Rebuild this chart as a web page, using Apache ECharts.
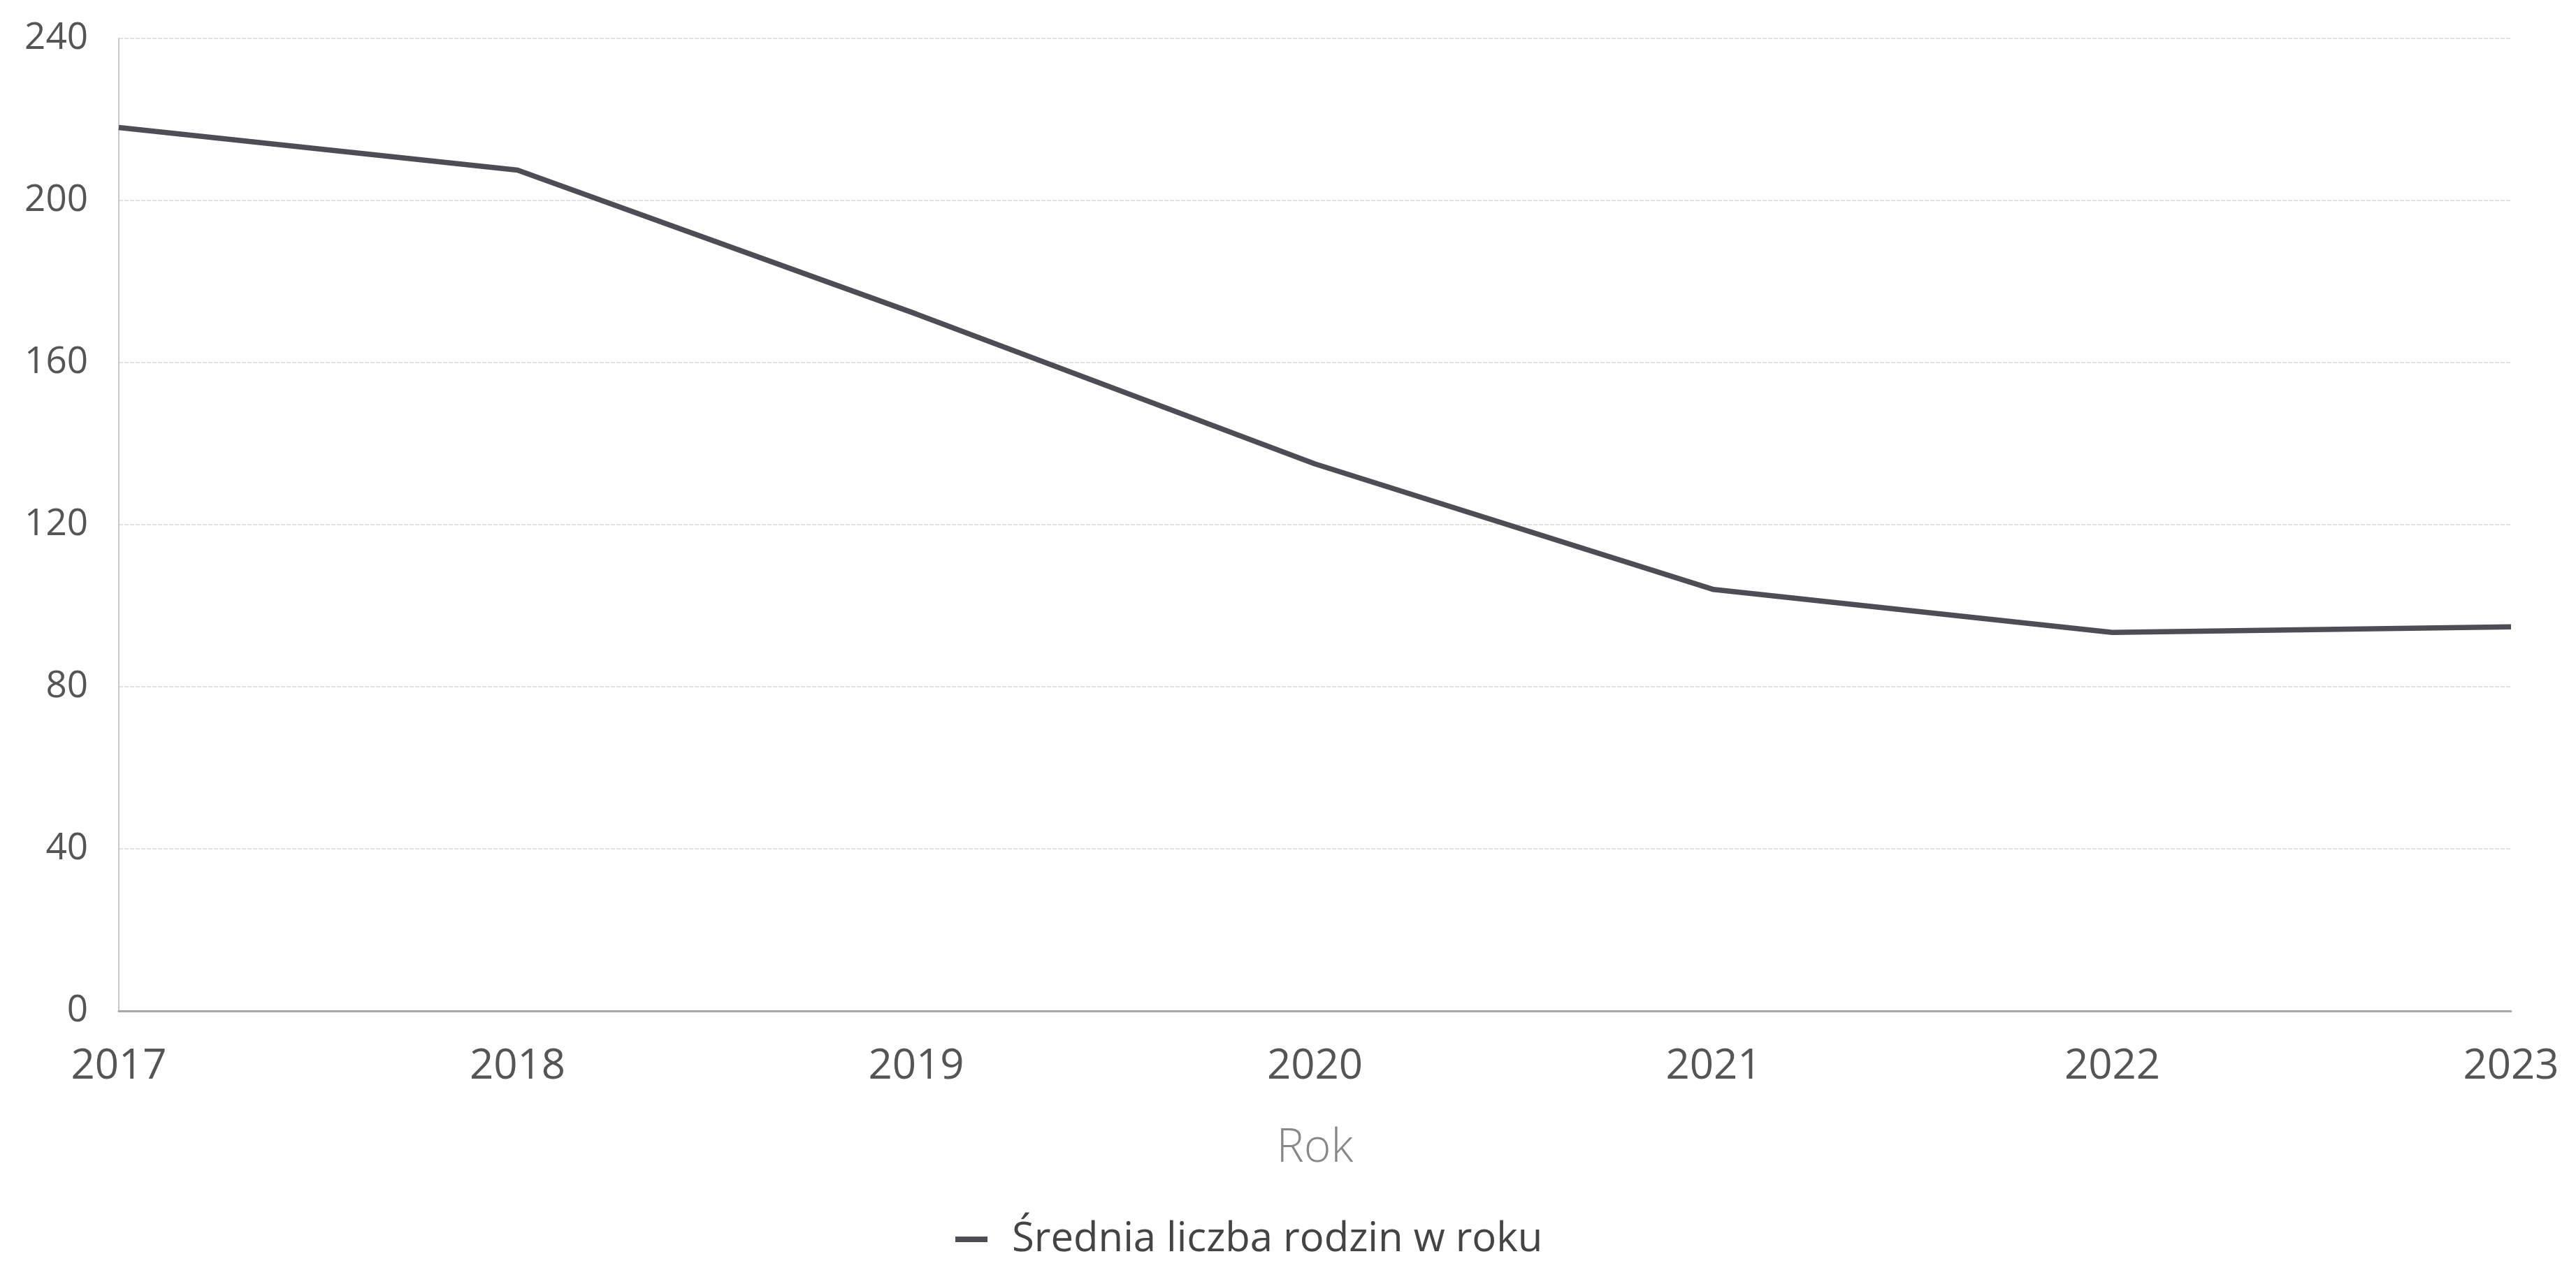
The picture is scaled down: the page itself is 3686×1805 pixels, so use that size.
<!DOCTYPE html>
<html>
<head>
<meta charset="utf-8">
<script src="https://cdn.jsdelivr.net/npm/echarts@6/dist/echarts.min.js"></script>
<style>
html,body{margin:0;padding:0;background:#fff;}
#chart{width:3686px;height:1805px;}
</style>
</head>
<body>
<div id="chart"></div>
<script>
const years = ['2017', '2018', '2019', '2020', '2021', '2022', '2023'];
const familiesAvg = [218, 207.5, 172, 135, 104, 93.4, 94.8];
const seriesName = 'Średnia liczba rodzin w roku';
const xAxisTitle = 'Rok';

const chart = echarts.init(document.getElementById('chart'));
const FONT = '"Open Sans", "Noto Sans", sans-serif';
chart.setOption({
  backgroundColor: '#ffffff',
  animation: false,
  grid: { left: 170, right: 93, top: 55, bottom: 358, containLabel: false },
  legend: {
    data: [{ name: seriesName, icon: 'rect' }],
    left: 1362,
    top: 1740,
    itemWidth: 46,
    itemHeight: 8,
    textStyle: { fontFamily: FONT, fontSize: 58, color: '#444', padding: [0, 0, 0, 30] }
  },
  xAxis: {
    type: 'category',
    data: years,
    boundaryGap: false,
    name: xAxisTitle,
    nameLocation: 'middle',
    nameGap: 164,
    nameTextStyle: { fontFamily: FONT, fontSize: 66, fontWeight: 300, color: '#888' },
    axisLine: { show: true, lineStyle: { color: '#a8a8a8', width: 3 } },
    axisTick: { show: false },
    axisLabel: { fontFamily: FONT, fontSize: 60, color: '#555', margin: 50 },
    splitLine: { show: false }
  },
  yAxis: {
    type: 'value',
    min: 0,
    max: 240,
    interval: 40,
    axisLine: { show: true, lineStyle: { color: '#c8c8d0', width: 2 } },
    axisTick: { show: false },
    axisLabel: { fontFamily: FONT, fontSize: 53, color: '#555', margin: 44 },
    splitLine: { show: true, lineStyle: { color: '#e3e3e3', width: 2, type: [6, 2] } }
  },
  series: [{
    name: seriesName,
    type: 'line',
    data: familiesAvg,
    showSymbol: false,
    symbol: 'none',
    color: '#4d4d55',
    lineStyle: { color: '#4d4d55', width: 7.5 }
  }]
});
</script>
</body>
</html>
